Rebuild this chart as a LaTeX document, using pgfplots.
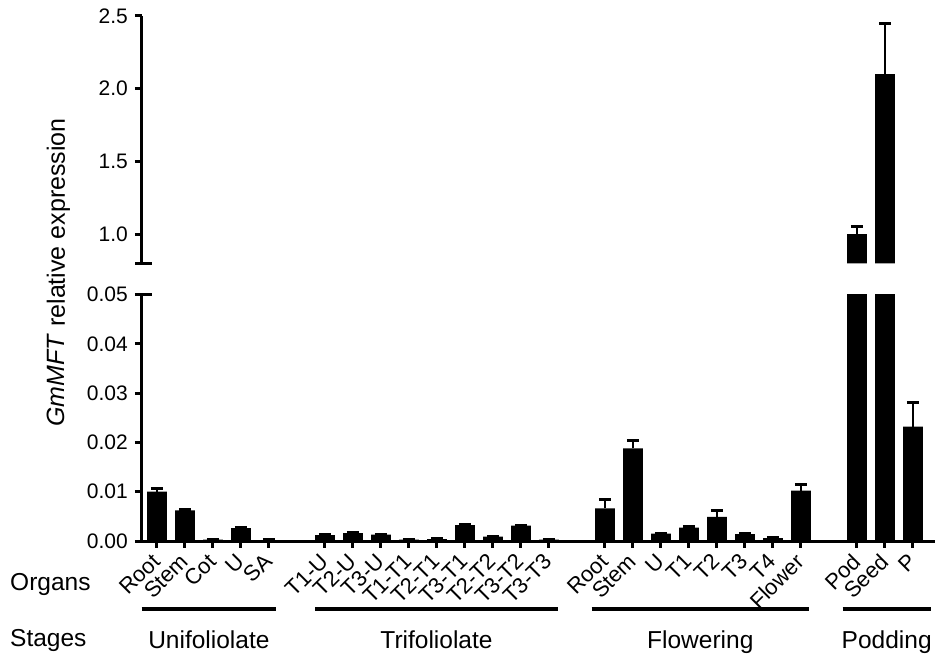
\documentclass[border=0pt]{standalone}
\usepackage{fontspec}
\setmainfont{Liberation Sans}
\usepackage{pgfplots}
\pgfplotsset{compat=1.18}
\usepackage{pgfplotstable}

\pgfplotstableread{
x y e
0 0.0100 0.0006
1 0.0062 0.0001
2 0.0003 0.00003
3 0.0026 0.0001
4 0.0002 0.00002
6 0.0012 0.0001
7 0.0016 0.0001
8 0.0013 0.0001
9 0.0003 0.00003
10 0.0004 0.00003
11 0.0032 0.0001
12 0.0009 0.0001
13 0.0031 0.0001
14 0.0003 0.00003
16 0.0066 0.0018
17 0.0188 0.0016
18 0.0015 0.0001
19 0.0027 0.0002
20 0.0049 0.0013
21 0.0014 0.0001
22 0.0006 0.0001
23 0.0102 0.0012
25 1.00 0.05
26 2.10 0.35
27 0.0232 0.0048
}\data

\pgfplotstableread{
x y e
25 1.00 0.05
26 2.10 0.35
}\datahigh

\begin{document}
\begin{tikzpicture}
\useasboundingbox (-142pt,-116pt) rectangle (793pt,541pt);
\pgfplotsset{
 common/.style={
  scale only axis, width=793pt, xmin=-0.5357, xmax=27.786,
  ybar, bar width=0.71, clip mode=individual,
  axis line style={line width=3pt, black},
  tick style={line width=3pt, black}, major tick length=7pt, tick align=outside,
  /pgf/number format/assume math mode=true,
  yticklabel style={font=\fontsize{21}{21}\selectfont, inner sep=0pt, xshift=-7pt},
  scaled y ticks=false,
 },
 barplot/.style={fill=black, draw=none,
  error bars/.cd, y dir=plus, y explicit,
  error bar style={line width=2pt, draw=black},
  error mark options={rotate=90, line width=3pt, mark size=6pt, draw=black}},
}
\begin{axis}[common, at={(0,0)}, anchor=south west, height=246.5pt,
  ymin=0, ymax=0.05, ytick={0,0.01,0.02,0.03,0.04,0.05},
  yticklabel style={/pgf/number format/.cd, fixed, fixed zerofill, precision=2},
  axis x line*=bottom, axis y line*=left,
  xtick={0,1,2,3,4,6,7,8,9,10,11,12,13,14,16,17,18,19,20,21,22,23,25,26,27},
  xticklabels={Root,Stem,Cot,U,SA,T1-U,T2-U,T3-U,T1-T1,T2-T1,T3-T1,T2-T2,T3-T2,T3-T3,Root,Stem,U,T1,T2,T3,T4,Flower,Pod,Seed,P},
  xticklabel style={yshift=-9pt, rotate=45, anchor=east, inner sep=1pt, font=\fontsize{22}{22}\selectfont},
]
\addplot[barplot] table[x=x, y=y, y error=e] {\data};
\end{axis}
\begin{axis}[common, at={(0,277.7pt)}, anchor=south west, height=247.3pt,
  ymin=0.8, ymax=2.5, ytick={1,1.5,2,2.5},
  yticklabel style={/pgf/number format/.cd, fixed, fixed zerofill, precision=1},
  axis y line*=left, axis x line=none, xtick=\empty,
]
\addplot[barplot] table[x=x, y=y, y error=e] {\datahigh};
\end{axis}
% break caps
\draw[line width=3pt] (-6.5pt,246.5pt) -- (10pt,246.5pt);
\draw[line width=3pt] (-6.5pt,277.7pt) -- (10pt,277.7pt);
% y label
\node[rotate=90, anchor=base, font=\fontsize{25}{25}\selectfont] at (-77pt,268.5pt) {\textit{GmMFT} relative expression};
% row labels
\node[anchor=base west, inner sep=0pt, font=\fontsize{24.5}{24.5}\selectfont] at (-132pt,-49pt) {Organs};
\node[anchor=base west, inner sep=0pt, font=\fontsize{24.5}{24.5}\selectfont] at (-132pt,-105.7pt) {Stages};
% group lines
\begin{scope}[line width=4.3pt]
\draw (-0.3pt,-68.3pt) -- (134pt,-68.3pt);
\draw (173pt,-68.3pt) -- (416pt,-68.3pt);
\draw (449.7pt,-68.3pt) -- (667pt,-68.3pt);
\draw (700.7pt,-68.3pt) -- (788.7pt,-68.3pt);
\end{scope}
\begin{scope}[every node/.style={anchor=base, inner sep=0pt, font=\fontsize{24.5}{24.5}\selectfont}]
\node at (66.9pt,-107pt) {Unifoliolate};
\node at (294.5pt,-107pt) {Trifoliolate};
\node at (558.3pt,-107pt) {Flowering};
\node at (744.7pt,-107pt) {Podding};
\end{scope}
\end{tikzpicture}
\end{document}
